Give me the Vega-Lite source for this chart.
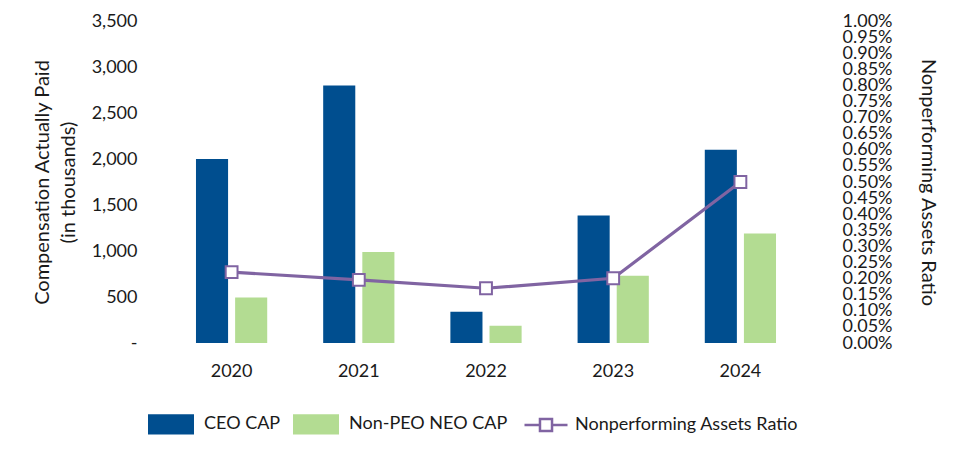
{
  "$schema": "https://vega.github.io/schema/vega-lite/v6.json",
  "width": 636,
  "height": 322,
  "autosize": {"type": "none"},
  "padding": {"left": 168, "top": 21, "right": 156, "bottom": 117},
  "background": "white",
  "config": {
    "font": "Lato",
    "view": {"stroke": null},
    "axis": {
      "labelFont": "Lato",
      "titleFont": "Lato",
      "labelColor": "#1a1a1a",
      "titleColor": "#1a1a1a",
      "labelFontSize": 18,
      "titleFontSize": 20,
      "titleFontWeight": "normal",
      "grid": false,
      "ticks": false,
      "domain": false
    },
    "legend": {
      "labelFont": "Lato",
      "labelFontSize": 18,
      "labelColor": "#1a1a1a",
      "labelLimit": 0,
      "padding": 0
    }
  },
  "datasets": {
    "cap": [
      {"year": "2020", "series": "CEO CAP", "value": 2000},
      {"year": "2020", "series": "Non-PEO NEO CAP", "value": 495},
      {"year": "2021", "series": "CEO CAP", "value": 2800},
      {"year": "2021", "series": "Non-PEO NEO CAP", "value": 990},
      {"year": "2022", "series": "CEO CAP", "value": 340},
      {"year": "2022", "series": "Non-PEO NEO CAP", "value": 188},
      {"year": "2023", "series": "CEO CAP", "value": 1385},
      {"year": "2023", "series": "Non-PEO NEO CAP", "value": 731},
      {"year": "2024", "series": "CEO CAP", "value": 2100},
      {"year": "2024", "series": "Non-PEO NEO CAP", "value": 1190}
    ],
    "npa": [
      {"year": "2020", "metric": "Nonperforming Assets Ratio", "ratio": 0.0022},
      {"year": "2021", "metric": "Nonperforming Assets Ratio", "ratio": 0.00196},
      {"year": "2022", "metric": "Nonperforming Assets Ratio", "ratio": 0.0017},
      {"year": "2023", "metric": "Nonperforming Assets Ratio", "ratio": 0.00201},
      {"year": "2024", "metric": "Nonperforming Assets Ratio", "ratio": 0.005}
    ]
  },
  "layer": [
    {
      "data": {"name": "cap"},
      "mark": {"type": "bar"},
      "encoding": {
        "x": {
          "field": "year",
          "type": "nominal",
          "scale": {"paddingInner": 0.44, "paddingOuter": 0.22},
          "axis": {"title": null, "labelAngle": 0, "labelPadding": 19}
        },
        "xOffset": {
          "field": "series",
          "type": "nominal",
          "sort": ["CEO CAP", "Non-PEO NEO CAP"],
          "scale": {"paddingInner": 0.18, "paddingOuter": 0}
        },
        "y": {
          "field": "value",
          "type": "quantitative",
          "scale": {"domain": [0, 3500]},
          "axis": {
            "values": [0, 500, 1000, 1500, 2000, 2500, 3000, 3500],
            "labelExpr": "datum.value == 0 ? '-' : format(datum.value, ',')",
            "labelPadding": 31,
            "title": ["Compensation Actually Paid", "(in thousands)"],
            "titlePadding": 13,
            "titleLineHeight": 26
          }
        },
        "fill": {
          "field": "series",
          "type": "nominal",
          "sort": ["CEO CAP", "Non-PEO NEO CAP"],
          "scale": {"domain": ["CEO CAP", "Non-PEO NEO CAP"], "range": ["#004E8F", "#B3DC92"]},
          "legend": {
            "orient": "none",
            "legendX": -20,
            "legendY": 380,
            "direction": "horizontal",
            "title": null,
            "symbolType": "M-1,-0.44 L1,-0.44 L1,0.44 L-1,0.44 Z",
            "symbolSize": 2116,
            "symbolStrokeWidth": 0,
            "symbolOpacity": 1,
            "labelOffset": 10,
            "columnPadding": 12
          }
        }
      }
    },
    {
      "data": {"name": "npa"},
      "mark": {
        "type": "line",
        "strokeWidth": 3.2,
        "point": {"shape": "square", "filled": true, "fill": "white", "strokeWidth": 2, "size": 140}
      },
      "encoding": {
        "x": {"field": "year", "type": "nominal"},
        "y": {
          "field": "ratio",
          "type": "quantitative",
          "scale": {"domain": [0, 0.01]},
          "axis": {
            "orient": "right",
            "format": ".2%",
            "values": [0, 0.0005, 0.001, 0.0015, 0.002, 0.0025, 0.003, 0.0035, 0.004, 0.0045, 0.005, 0.0055, 0.006, 0.0065, 0.007, 0.0075, 0.008, 0.0085, 0.009, 0.0095, 0.01],
            "labelOverlap": false,
            "labelPadding": 38,
            "title": "Nonperforming Assets Ratio",
            "titlePadding": 26
          }
        },
        "stroke": {
          "field": "metric",
          "type": "nominal",
          "scale": {"range": ["#8064A2"]},
          "legend": {
            "orient": "none",
            "legendX": 355,
            "legendY": 381,
            "direction": "horizontal",
            "title": null,
            "symbolType": "M-1,0 L-0.28,0 M0.28,0 L1,0 M-0.28,-0.28 L0.28,-0.28 L0.28,0.28 L-0.28,0.28 Z",
            "symbolSize": 1849,
            "symbolStrokeWidth": 2.5,
            "symbolFillColor": "white",
            "labelOffset": 6
          }
        }
      }
    }
  ],
  "resolve": {"scale": {"y": "independent", "fill": "independent", "stroke": "independent"}}
}
